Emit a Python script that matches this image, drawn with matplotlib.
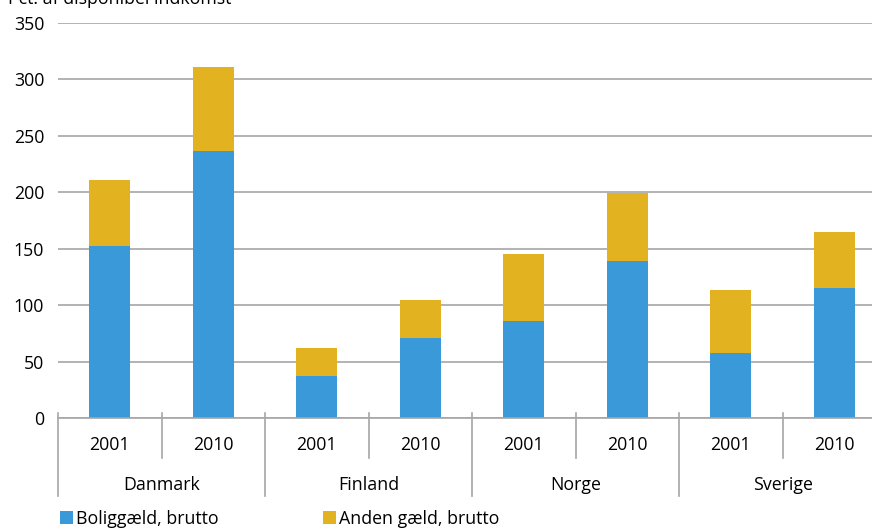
import matplotlib
matplotlib.use("Agg")
import matplotlib.pyplot as plt
import numpy as np

plt.rcParams['font.family'] = ['Open Sans', 'DejaVu Sans']

countries = ['Danmark', 'Finland', 'Norge', 'Sverige']
years = ['2001', '2010']
bolig = [152, 237, 37, 71, 86, 139, 58, 115]
anden = [59, 74, 25, 34, 59, 60, 55, 50]

blue = '#3a9ad9'
yellow = '#e2b220'
grey = '#a6a6a6'
fs = 12.8

W, H = 872, 530
fig = plt.figure(figsize=(W / 100, H / 100), dpi=100)
# axes placed in pixels: left 58, right 886 (runs off the image), y 0 at 418, 350 at 23
ax = fig.add_axes([58 / W, (H - 418) / H, (886 - 58) / W, 395 / H])

x = np.arange(len(bolig))
ax.bar(x, bolig, width=0.4, color=blue, label='Boliggæld, brutto', zorder=2)
ax.bar(x, anden, width=0.4, bottom=bolig, color=yellow, label='Anden gæld, brutto', zorder=2)

ax.set_xlim(-0.5, len(bolig) - 0.5)
ax.set_ylim(0, 350)
ax.set_yticks(range(0, 351, 50))
ax.tick_params(axis='y', length=0, pad=10, labelsize=fs)
ax.set_xticks([])
ax.yaxis.grid(True, color=grey, linewidth=1.2, zorder=0)
ax.set_axisbelow(True)
for s in ['left', 'right', 'top']:
    ax.spines[s].set_visible(False)
ax.spines['bottom'].set_color(grey)
ax.spines['bottom'].set_linewidth(1.2)

trans = ax.get_xaxis_transform()
top = 5 / 395
year_bot = -40 / 395
group_bot = -78 / 395
# year labels and separators
for i in range(len(bolig)):
    ax.text(i, -27 / 395, years[i % 2], transform=trans, ha='center', va='center', fontsize=fs)
for i in range(len(bolig) + 1):
    xb = i - 0.5
    bot = group_bot if i % 2 == 0 else year_bot
    ax.plot([xb, xb], [top, bot], transform=trans, color=grey, linewidth=1.2, clip_on=False)
for j, c in enumerate(countries):
    ax.text(2 * j + 0.5, -67 / 395, c, transform=trans, ha='center', va='center', fontsize=fs)

fig.text(8 / W, 1 - 4 / H, 'Pct. af disponibel indkomst', ha='left', va='baseline', fontsize=fs)

fig.legend(loc='center left', bbox_to_anchor=(60 / W, 1 - 519 / H), ncol=2, frameon=False,
           fontsize=fs, handlelength=0.75, handleheight=0.75, handletextpad=0.15,
           columnspacing=5.85, borderaxespad=0, borderpad=0)

fig.savefig('out.png', dpi=100)
